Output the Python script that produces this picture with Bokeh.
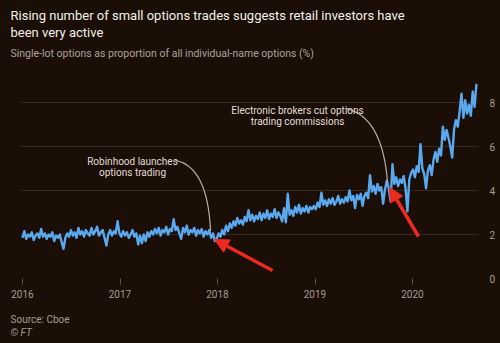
import pandas as pd
from bokeh.plotting import figure
from bokeh.models import Range1d, FixedTicker, Label, Arrow, NormalHead, Title
from bokeh.embed import file_html
from bokeh.resources import INLINE

# ---- data: weekly readings, single-lot share of all individual-name options (%) ----
share_2016 = [1.85, 2.15, 1.8, 2.0, 1.9, 2.1, 1.75, 1.95, 2.05, 1.85,
              2.25, 1.9, 2.05, 1.8, 2.0, 1.9, 2.1, 1.7, 1.95, 1.85,
              2.0, 1.65, 1.35, 1.85, 2.05, 1.9, 2.2, 1.95, 2.1, 1.85,
              2.3, 2.0, 2.15, 1.9, 2.2, 2.05, 1.95, 2.3, 2.0, 2.15,
              2.35, 1.95, 2.1, 2.2, 1.85, 1.5, 2.0, 2.2, 1.95, 2.15,
              2.05, 2.6]
share_2017 = [2.05, 1.9, 2.15, 1.95, 2.1, 1.85, 2.0, 2.2, 1.9, 2.05,
              1.55, 1.95, 1.6, 2.0, 1.7, 2.1, 1.9, 2.15, 2.0, 2.25,
              2.05, 2.3, 1.95, 2.2, 2.1, 2.35, 2.0, 2.25, 2.15, 2.7,
              2.2, 2.35, 2.05, 1.8, 2.3, 2.1, 2.4, 2.0, 2.2, 2.1,
              2.3, 1.95, 2.2, 2.05, 2.25, 1.9, 2.15, 2.0, 2.2, 1.85,
              2.05, 1.7]
share_2018 = [1.8, 2.05, 1.9, 2.2, 2.0, 2.4, 2.15, 2.5, 2.3, 2.6,
              2.4, 2.75, 2.5, 2.65, 2.45, 2.8, 2.6, 3.1, 2.65, 2.9,
              2.6, 2.85, 2.7, 3.0, 2.65, 2.95, 2.75, 3.1, 2.7, 2.95,
              2.8, 3.15, 2.75, 3.0, 2.85, 2.6, 3.2, 2.55, 3.85, 2.9,
              3.1, 2.85, 3.25, 3.0, 3.35, 2.95, 3.2, 3.05, 3.3, 3.0,
              3.25, 3.15]
share_2019 = [3.3, 3.15, 3.45, 3.25, 3.9, 3.35, 3.55, 3.3, 3.6, 3.4,
              3.65, 3.35, 3.5, 3.75, 3.4, 3.6, 3.45, 3.7, 3.5, 4.0,
              3.55, 3.75, 3.2, 3.8, 3.6, 3.85, 3.3, 3.75, 3.9, 3.65,
              4.7, 3.95, 4.2, 3.85, 4.3, 4.0, 4.15, 3.4, 4.05, 4.45,
              4.1, 3.5, 5.2, 4.3, 4.6, 4.2, 4.5, 4.35, 4.65, 4.1,
              3.05, 4.5]
share_2020 = [4.8, 4.95, 4.6, 5.1, 4.85, 6.1, 5.0, 4.75, 4.1, 4.9,
              5.15, 4.7, 5.4, 5.75, 5.3, 5.9, 5.6, 6.9, 6.3, 6.75,
              6.4, 6.0, 5.5, 6.8, 7.2, 6.9, 7.6, 8.4, 7.3, 8.1,
              7.5, 7.9, 7.4, 8.5, 7.8, 8.85]

year_ticks = [2016, 2017, 2018, 2019, 2020]
year_labels = ["2016", "2017", "2018", "2019", "2020"]
y_ticks = [0, 2, 4, 6, 8]

values = share_2016 + share_2017 + share_2018 + share_2019 + share_2020
dates = pd.date_range("2016-01-01", periods=len(values), freq="7D")
t = [d.year + (d.dayofyear - 1) / (366 if d.is_leap_year else 365) for d in dates]

# ---- styling ----
BG = "#1a0e06"
LINE = "#5aa9f0"
GRID = "#35281f"
TICKTXT = "#a69d95"
FONT = "Roboto"
RED = "#ec2a1e"
CONNECT = "#b8afa6"

# pixel -> data helpers for annotation placement
def dx(px):
    return 2016 + (px - 22) / 97.5

def dy(py):
    return (278 - py) / 22.0

p = figure(width=500, height=343, output_backend="svg", toolbar_location=None,
           title=None,
           x_range=Range1d(dx(20), dx(478)), y_range=Range1d(0, 9),
           y_axis_location="right",
           min_border_left=20, min_border_right=22, min_border_top=80,
           min_border_bottom=65,
           background_fill_color=BG, border_fill_color=BG,
           outline_line_color=None)
p.styles = {"background-color": BG}

p.xgrid.visible = False
p.ygrid.ticker = FixedTicker(ticks=y_ticks)
p.ygrid.grid_line_color = GRID
p.ygrid.grid_line_width = 1

xa = p.xaxis[0]
xa.ticker = FixedTicker(ticks=year_ticks)
xa.major_label_overrides = {k: v for k, v in zip(year_ticks, year_labels)}
xa.axis_line_color = None
xa.major_tick_line_color = "#5e534b"
xa.major_tick_out = 6
xa.major_tick_in = 0
xa.minor_tick_line_color = None
xa.major_label_text_color = TICKTXT
xa.major_label_text_font = FONT
xa.major_label_text_font_size = "10px"
xa.major_label_standoff = 5

ya = p.yaxis[0]
ya.ticker = FixedTicker(ticks=y_ticks)
ya.axis_line_color = None
ya.major_tick_line_color = None
ya.minor_tick_line_color = None
ya.major_label_text_color = TICKTXT
ya.major_label_text_font = FONT
ya.major_label_text_font_size = "10px"
ya.major_label_standoff = 5

p.line(x=t, y=values, line_color=LINE, line_width=2.4, line_join="round")

# annotation connectors (quadratic curves sampled)
def curve(p0, c, p1, n=40):
    xs, ys = [], []
    for i in range(n + 1):
        s = i / n
        bx = (1 - s) ** 2 * p0[0] + 2 * (1 - s) * s * c[0] + s ** 2 * p1[0]
        by = (1 - s) ** 2 * p0[1] + 2 * (1 - s) * s * c[1] + s ** 2 * p1[1]
        xs.append(dx(bx))
        ys.append(dy(by))
    p.line(xs, ys, line_color=CONNECT, line_width=1.2)

curve((175, 160), (207, 166), (210, 230))
curve((345, 108), (382, 116), (387, 182))

# red arrows
for (x0, y0, x1, y1) in [(272, 270, 214, 239), (418, 236, 389, 187)]:
    p.add_layout(Arrow(end=NormalHead(size=14, fill_color=RED, line_color=RED),
                       x_start=dx(x0), y_start=dy(y0), x_end=dx(x1), y_end=dy(y1),
                       line_color=RED, line_width=3.5))

def label(px, py, text, size, color, align="left"):
    p.add_layout(Label(x=dx(px), y=dy(py), text=text, text_font=FONT,
                       text_font_size=size, text_color=color, text_align=align,
                       text_baseline="alphabetic"))

label(132, 161, "Robinhood launches", "10px", "#e2dcd5", align="center")
label(132, 172, "options trading", "10px", "#e2dcd5", align="center")
label(297, 110, "Electronic brokers cut options", "10px", "#e2dcd5", align="center")
label(297, 121, "trading commissions", "10px", "#e2dcd5", align="center")

# titles (above: first added sits closest to the plot)
def title(text, size, color, loc, standoff, style="normal"):
    p.add_layout(Title(text=text, align="left", offset=-10, text_font=FONT,
                       text_font_size=size, text_color=color, standoff=standoff,
                       text_font_style=style), loc)

title(" ", "1px", BG, "above", 12)
title("Single-lot options as proportion of all individual-name options (%)", "10.5px", "#aca39b", "above", 11)
title("been very active", "13px", "#f4f0ea", "above", 0)
title("Rising number of small options trades suggests retail investors have", "13px", "#f4f0ea", "above", 0)
title(" ", "1px", BG, "above", 0)

title(" ", "1px", BG, "below", 8)
title("Source: Cboe", "10px", TICKTXT, "below", 0)
title("\u00a9 FT", "10px", TICKTXT, "below", 0, style="italic")

open("out.html", "w").write(file_html(p, INLINE))
